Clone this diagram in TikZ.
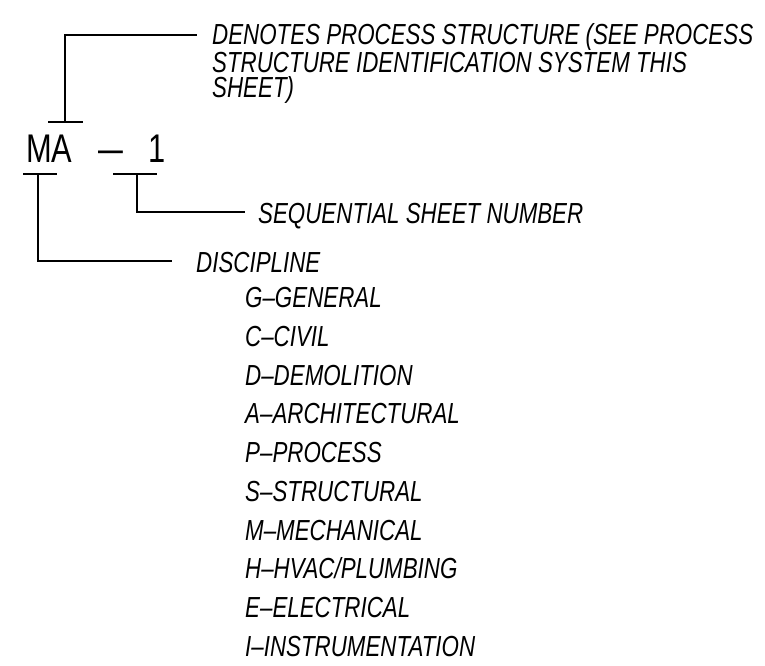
\documentclass[tikz,border=0pt]{standalone}
\usepackage{fontspec}
\usepackage{tikz}
\usetikzlibrary{positioning}
\newfontfamily\cadfont[FakeStretch=0.77]{Liberation Sans}
\tikzstyle{note}=[font=\cadfont\itshape\fontsize{29pt}{25pt}\selectfont,anchor=base west,inner sep=0pt]
\tikzstyle{entry}=[note,anchor=south west,text height=20pt,text depth=0pt]
\tikzstyle{leader}=[line width=1.6pt]

\begin{document}
\begin{tikzpicture}
	[x=1pt,y=-1pt,node distance=18.3pt]
	\useasboundingbox (0,0) rectangle (765,665);

	\node (sheet) [font=\cadfont\fontsize{40pt}{42pt}\selectfont,anchor=base west,inner sep=0pt] at (26,162) {MA\hspace{26pt}\scalebox{1.45}[1]{–}\hspace{25pt}1};

	\coordinate (procTick) at (65,122);
	\coordinate (discTick) at (38,174);
	\coordinate (seqTick) at (137,174);
	\coordinate (procEnd) at (197,35);
	\coordinate (seqEnd) at (245,212);
	\coordinate (discEnd) at (172,261);

	\node (denotes) [note,align=left] at (212,97) {DENOTES PROCESS STRUCTURE (SEE PROCESS\\STRUCTURE IDENTIFICATION SYSTEM THIS\\SHEET)};
	\node (seq) [note] at (258,223) {SEQUENTIAL SHEET NUMBER};
	\node (disc) [note] at (196,272) {DISCIPLINE};

	\node (g) [entry] at (245,308) {G–GENERAL};
	\node (c) [entry,below=of g.south west,anchor=north west] {C–CIVIL};
	\node (d) [entry,below=of c.south west,anchor=north west] {D–DEMOLITION};
	\node (a) [entry,below=of d.south west,anchor=north west] {A–ARCHITECTURAL};
	\node (p) [entry,below=of a.south west,anchor=north west] {P–PROCESS};
	\node (s) [entry,below=of p.south west,anchor=north west] {S–STRUCTURAL};
	\node (m) [entry,below=of s.south west,anchor=north west] {M–MECHANICAL};
	\node (h) [entry,below=of m.south west,anchor=north west] {H–HVAC/PLUMBING};
	\node (e) [entry,below=of h.south west,anchor=north west] {E–ELECTRICAL};
	\node (i) [entry,below=of e.south west,anchor=north west] {I–INSTRUMENTATION};

	% ticks on the sheet number
	\draw[leader] ([xshift=-17pt]procTick) -- ([xshift=18pt]procTick);
	\draw[leader] ([xshift=-15pt]discTick) -- ([xshift=19pt]discTick);
	\draw[leader] ([xshift=-24pt]seqTick) -- ([xshift=20pt]seqTick);

	\draw[leader] (procTick) |- (procEnd);
	\draw[leader] (seqTick) |- (seqEnd);
	\draw[leader] (discTick) |- (discEnd);
\end{tikzpicture}
\end{document}
